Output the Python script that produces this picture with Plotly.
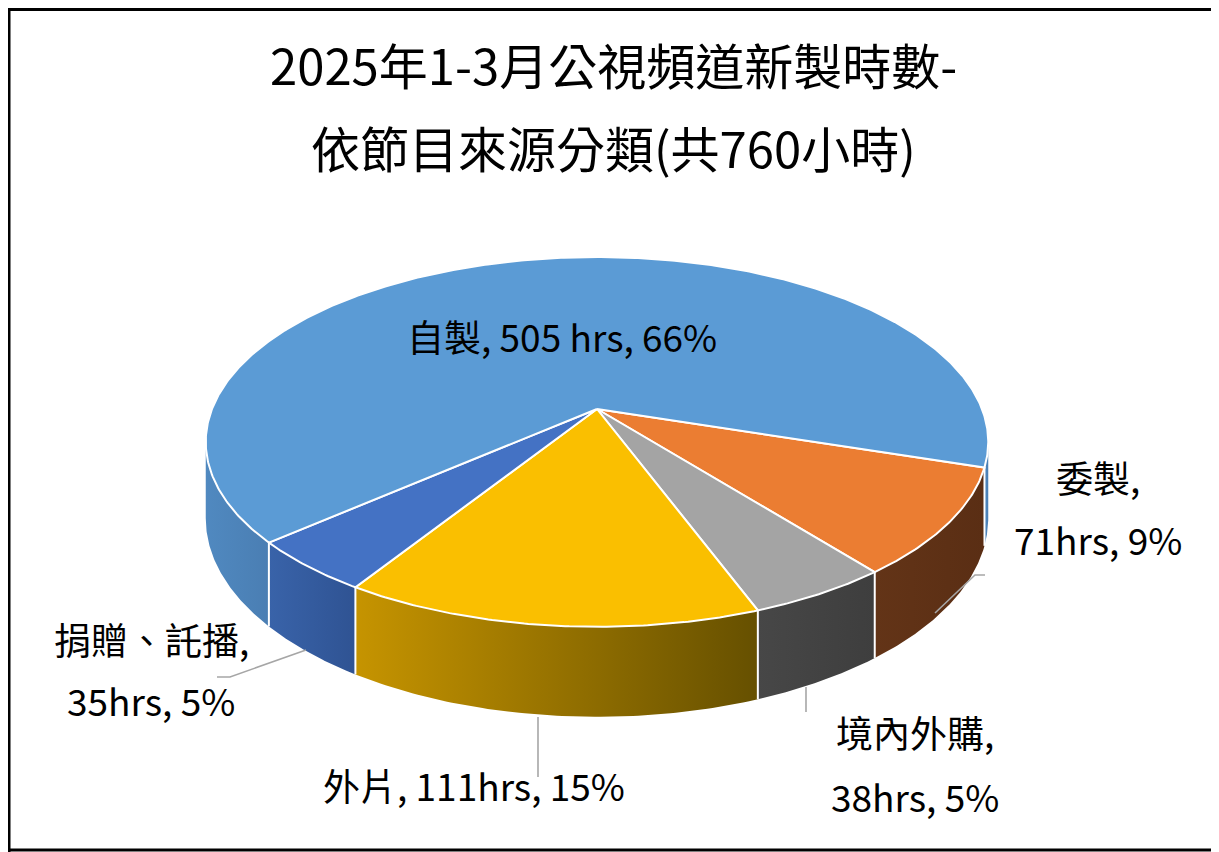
import numpy as np
import plotly.graph_objects as go

# ---------------- data ----------------
categories = ["委製", "境內外購", "外片", "捐贈、託播", "自製"]
hours = [71, 38, 111, 35, 505]
title_lines = ["2025年1-3月公視頻道新製時數-", "依節目來源分類(共760小時)"]

# ---------------- style / layout constants ----------------
top_colors = ["#EB7D32", "#A4A4A4", "#FABF00", "#4472C4", "#5B9BD5"]
side_colors = [("#633417", "#5A2E14"), ("#474747", "#3E3E3E"), ("#C69400", "#665000"),
               ("#3963A9", "#2F5393"), ("#5089C0", "#4A7EB3")]
START = 108.0           # clock angle (deg from 12 o'clock, clockwise) of first slice
CX, CY = 597, 409       # apex of the pie in page pixel space
B, A, K, H = 385, 179, 0.178, 74
FONT = "Noto Sans CJK TC"
PAGE_OFF = 8            # default body margin of the html page
W, HGT = 1219 - PAGE_OFF, 852 - PAGE_OFF

total = sum(hours)
fracs = [h / total for h in hours]
pcts = [round(100 * f) for f in fracs]


def proj(phi_deg, depth=0.0):
    phi = np.radians(phi_deg)
    sx = np.sin(phi)
    d = -np.cos(phi)
    s = 1.0 / (1.0 - K * d)
    return CX + B * sx * s, CY + A * d * s + H * s * depth


fig = go.Figure()

bounds = []
a = START
for f in fracs:
    bounds.append((a, a + 360 * f))
    a += 360 * f

phi_min = np.degrees(np.arccos(-K))
phi_max = 360 - phi_min

# ---- side walls ----
for i, (a0, a1) in enumerate(bounds):
    for off in (0, 360):
        lo = max(a0, phi_min + off)
        hi = min(a1, phi_max + off)
        if hi <= lo:
            continue
        ph = np.linspace(lo, hi, 80)
        xt, yt = proj(ph, 0)
        xb, yb = proj(ph[::-1], 1)
        xs = np.concatenate([xt, xb, xt[:1]])
        ys = np.concatenate([yt, yb, yt[:1]])
        c0, c1 = side_colors[i]
        fig.add_trace(go.Scatter(
            x=xs, y=ys, mode="lines", fill="toself",
            fillgradient=dict(type="horizontal", colorscale=[[0, c0], [1, c1]]),
            line=dict(width=0, color="rgba(0,0,0,0)"),
            hoverinfo="skip", showlegend=False))

# ---- separators on side walls ----
for a0, _ in bounds:
    for ang in (a0, a0 - 360, a0 + 360):
        if phi_min < ang < phi_max:
            x0, y0 = proj(ang, 0)
            x1, y1 = proj(ang, 1)
            fig.add_trace(go.Scatter(x=[x0, x1], y=[y0, y1], mode="lines",
                                     line=dict(color="white", width=2),
                                     hoverinfo="skip", showlegend=False))

# ---- top faces ----
for i, (a0, a1) in enumerate(bounds):
    ph = np.linspace(a0, a1, max(10, int((a1 - a0) * 2)))
    xt, yt = proj(ph, 0)
    xs = np.concatenate([[CX], xt, [CX]])
    ys = np.concatenate([[CY], yt, [CY]])
    fig.add_trace(go.Scatter(
        x=xs, y=ys, mode="lines", fill="toself", fillcolor=top_colors[i],
        line=dict(color="white", width=2), hoverinfo="skip", showlegend=False))

# ---- leader lines ----
leaders = [
    [(985, 575), (975, 575), (935, 613)],
    [(806, 687), (806, 712)],
    [(538, 717), (538, 777)],
    [(306, 650), (230, 677), (217, 677)],
]
for seg in leaders:
    fig.add_trace(go.Scatter(x=[p[0] for p in seg], y=[p[1] for p in seg], mode="lines",
                             line=dict(color="#A6A6A6", width=1.6),
                             hoverinfo="skip", showlegend=False))

# ---- labels ----
label_lines = [
    [f"{categories[0]},", f"{hours[0]}hrs, {pcts[0]}%"],
    [f"{categories[1]},", f"{hours[1]}hrs, {pcts[1]}%"],
    [f"{categories[2]}, {hours[2]}hrs, {pcts[2]}%"],
    [f"{categories[3]},", f"{hours[3]}hrs, {pcts[3]}%"],
    [f"{categories[4]}, {hours[4]} hrs, {pcts[4]}%"],
]
label_pos = [
    [(1098, 477), (1098, 539)],
    [(915, 732), (915, 796)],
    [(474, 785)],
    [(151, 639), (151, 700)],
    [(562, 336)],
]
annotations = []
for lines, poss in zip(label_lines, label_pos):
    for t, (x, y) in zip(lines, poss):
        annotations.append(dict(x=x, y=y, xref="x", yref="y", text=t, showarrow=False,
                                xanchor="center", yanchor="middle",
                                font=dict(family=FONT, size=37, color="#000000")))

for t, y in zip(title_lines, (63, 146)):
    annotations.append(dict(x=613, y=y, xref="x", yref="y", text=t, showarrow=False,
                            xanchor="center", yanchor="middle",
                            font=dict(family=FONT, size=49, color="#000000")))

shapes = [
    dict(type="line", x0=0, x1=1219, y0=9.5, y1=9.5, line=dict(color="#000", width=3)),
    dict(type="line", x0=9, x1=9, y0=0, y1=852, line=dict(color="#000", width=3)),
    dict(type="line", x0=0, x1=1219, y0=850, y1=850, line=dict(color="#000", width=3)),
    dict(type="line", x0=1217.5, x1=1217.5, y0=0, y1=852, line=dict(color="#BDBDBD", width=2)),
]

fig.update_layout(
    width=W, height=HGT, autosize=False,
    margin=dict(l=0, r=0, t=0, b=0),
    paper_bgcolor="white", plot_bgcolor="white",
    xaxis=dict(range=[PAGE_OFF, 1219], visible=False, fixedrange=True),
    yaxis=dict(range=[852, PAGE_OFF], visible=False, fixedrange=True),
    annotations=annotations, shapes=shapes, showlegend=False,
)

fig.write_html("out.html")
